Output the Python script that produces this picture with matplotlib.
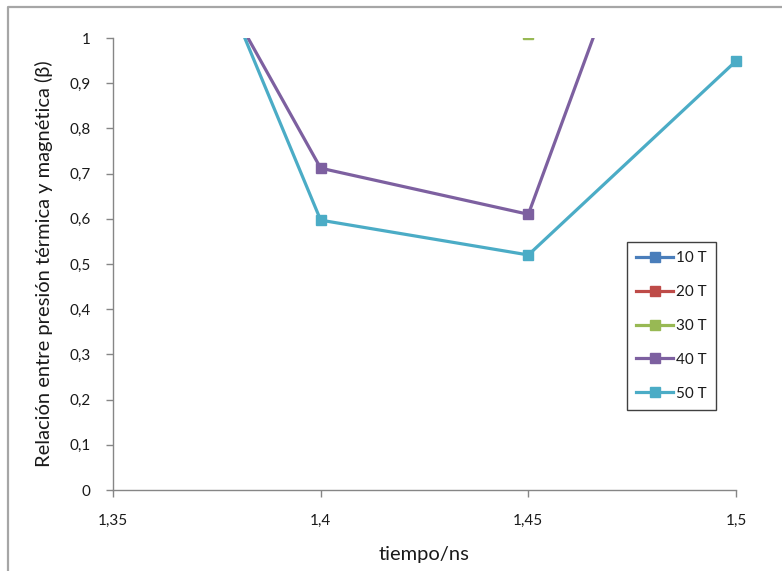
import matplotlib
matplotlib.use("Agg")
import matplotlib.pyplot as plt
from matplotlib.ticker import FuncFormatter, MultipleLocator
from matplotlib.patches import Rectangle
from matplotlib.lines import Line2D

plt.rcParams['font.family'] = ['Lato', 'DejaVu Sans']

# Sampling times (ns)
tiempo = [1.35, 1.40, 1.45, 1.50]

# Ratio of thermal to magnetic pressure (beta) for each field strength
beta_10T = [4.8, 3.9, 3.1, 3.6]
beta_20T = [3.3, 2.6, 2.2, 2.9]
beta_30T = [2.4, 1.5, 1.008, 2.1]
beta_40T = [1.535, 0.712, 0.61, 1.86]
beta_50T = [1.70, 0.597, 0.520, 0.949]

series_labels = ['10 T', '20 T', '30 T', '40 T', '50 T']
series_values = [beta_10T, beta_20T, beta_30T, beta_40T, beta_50T]
series_colors = ['#4A7EBB', '#BE4B48', '#98B954', '#7D60A0', '#4BACC6']

x_ticks = [1.35, 1.40, 1.45, 1.50]

fig = plt.figure(figsize=(7.82, 5.71), dpi=100)
ax = fig.add_axes([113/782, 1 - 490/571, 623/782, 452/571])

ax.set_xlim(1.35, 1.50)
ax.set_ylim(0, 1)

# Clip only at the top of the plotting area so end markers stay whole
clip_rect = Rectangle((-0.05, -0.05), 1.1, 1.05, transform=ax.transAxes,
                      facecolor='none', edgecolor='none')
ax.add_patch(clip_rect)

for lbl, vals, col in zip(series_labels, series_values, series_colors):
    ln, = ax.plot(tiempo, vals, color=col, lw=2.3, marker='s', markersize=7,
                  markeredgecolor=col, markerfacecolor=col, label=lbl)
    ln.set_clip_path(clip_rect)

axis_gray = '#868686'
for side in ['top', 'right']:
    ax.spines[side].set_visible(False)
for side in ['left', 'bottom']:
    ax.spines[side].set_color(axis_gray)
    ax.spines[side].set_linewidth(1.0)

ax.set_xticks(x_ticks)
ax.yaxis.set_major_locator(MultipleLocator(0.1))
comma = FuncFormatter(lambda v, p: ('%g' % round(v, 3)).replace('.', ','))
ax.xaxis.set_major_formatter(comma)
ax.yaxis.set_major_formatter(comma)
ax.tick_params(axis='both', direction='out', length=5, width=1.0,
               color=axis_gray, labelcolor='#1a1a1a', labelsize=11)
ax.tick_params(axis='x', pad=12)
ax.tick_params(axis='y', pad=11)

ax.set_xlabel('tiempo/ns', fontsize=14.5, color='#1a1a1a', labelpad=13)
ax.set_ylabel('Relación entre presión térmica y magnética (β)', fontsize=14.5,
              color='#1a1a1a', labelpad=12)

leg = ax.legend(loc='upper left', bbox_to_anchor=((627-113)/623, (490-242)/452),
                borderaxespad=0, fancybox=False, framealpha=1,
                edgecolor='#404040', fontsize=11, labelspacing=1.3,
                handlelength=2.4, handletextpad=0.2, borderpad=0.6,
                markerscale=1.0)
leg.get_frame().set_linewidth(1.0)
for t in leg.get_texts():
    t.set_color('#1a1a1a')

# Outer chart-area border (left and top edges)
fy = 1 - 7/571
fx = 8/782
fig.add_artist(Line2D([fx, fx, 1.0], [0.0, fy, fy], transform=fig.transFigure,
                      color='#A6A6A6', lw=1.6))

fig.savefig('out.png', dpi=100)
